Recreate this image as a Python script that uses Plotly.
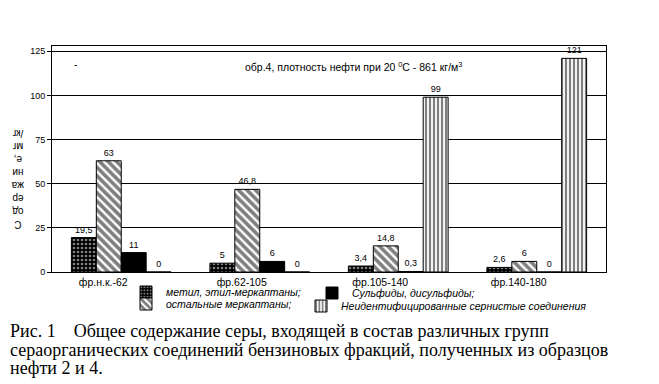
import plotly.graph_objects as go

categories = ["фр.н.к.-62", "фр.62-105", "фр.105-140", "фр.140-180"]
methyl_ethyl = [19.5, 5, 3.4, 2.6]
other_merc = [63, 46.8, 14.8, 6]
sulfides = [11, 6, 0.3, 0]
unidentified = [0, 0, 99, 121]
y_ticks = [0, 25, 50, 75, 100, 125]
caption_lines = [
    "Рис. 1    Общее содержание серы, входящей в состав различных групп",
    "сераорганических соединений бензиновых фракций, полученных из образцов",
    "нефти 2 и 4.",
]

# plot area in the reference: x 52..606, y 46..272 (page has an 8px body margin)
PL, PW, PB, PH = 52, 554, 272, 226
def px(x):
    return (x - PL) / PW
def py(y):
    return (PB - y) / PH

series = [
    ("метил, этил-меркаптаны;", methyl_ethyl,
     dict(shape=".", bgcolor="black", fgcolor="white", size=4, solidity=0.35), "legend"),
    ("остальные меркаптаны;", other_merc,
     dict(shape="\\", bgcolor="white", fgcolor="black", size=6, solidity=0.6), "legend2"),
    ("Сульфиды, дисульфиды;", sulfides, None, "legend3"),
    ("Неидентифицированные сернистые соединения", unidentified,
     dict(shape="|", bgcolor="white", fgcolor="black", size=4, solidity=0.55), "legend4"),
]

fig = go.Figure()
for name, vals, pat, lg in series:
    marker = dict(color="black" if pat is None else "white", line=dict(color="black", width=1))
    if pat is not None:
        marker["pattern"] = pat
    fig.add_trace(go.Bar(
        x=categories, y=vals, name=name, marker=marker, legend=lg,
        texttemplate="%{y}", textposition="outside", cliponaxis=False,
        textfont=dict(family="Liberation Sans", size=9, color="black"),
    ))

legend_font = dict(family="Liberation Sans", size=10.5, style="italic", color="black")
def leg(xt, yt):
    return dict(x=px(xt - 40), y=py(yt), xanchor="left", yanchor="middle",
                font=legend_font, bgcolor="rgba(0,0,0,0)", itemwidth=30,
                borderwidth=0)

fig.update_layout(
    width=651, height=376,
    margin=dict(l=44, r=53, t=38, b=112),
    paper_bgcolor="white", plot_bgcolor="white",
    separators=", ",
    barmode="group", bargap=0.28, bargroupgap=0,
    font=dict(family="Liberation Sans", size=10, color="black"),
    legend=leg(166, 292),
    legend2=leg(166, 304),
    legend3=leg(352, 293),
    legend4=leg(341, 306),
    showlegend=True,
)
fig.update_xaxes(
    showline=True, linecolor="black", linewidth=1, mirror=True,
    ticks="", tickson="boundaries",
    tickfont=dict(family="Liberation Sans", size=10.5), ticklabelshift=-18,
    showgrid=False,
)
fig.update_yaxes(
    range=[0, 128], tickvals=y_ticks, showline=True, linecolor="black", linewidth=1,
    mirror=True, ticks="outside", ticklen=4, tickcolor="black",
    showgrid=True, gridcolor="black", gridwidth=1, zeroline=False,
    tickfont=dict(family="Liberation Sans", size=9),
)

fig.add_annotation(
    xref="paper", yref="paper", x=px(353), y=py(66), xanchor="center", yanchor="middle",
    text="обр.4, плотность нефти при 20 <sup>0</sup>С - 861 кг/м<sup>3</sup>",
    showarrow=False, font=dict(family="Liberation Sans", size=10.5),
)
fig.add_annotation(
    xref="paper", yref="paper", x=px(72), y=py(57), text="-", showarrow=False,
    font=dict(family="Liberation Sans", size=10),
)
fig.add_annotation(
    xref="paper", yref="paper", x=px(18), y=py(179), xanchor="center", yanchor="middle",
    text="С<br>од<br>ер<br>жа<br>ни<br>е,<br>мг<br>/кг", textangle=180,
    showarrow=False, font=dict(family="Liberation Sans", size=10),
)
for line, yc in zip(caption_lines, [331, 350, 368]):
    fig.add_annotation(
        xref="paper", yref="paper", x=px(8), y=py(yc), xanchor="left", yanchor="middle",
        text=line, showarrow=False, font=dict(family="Liberation Serif", size=18),
    )

fig.write_html("out.html")
